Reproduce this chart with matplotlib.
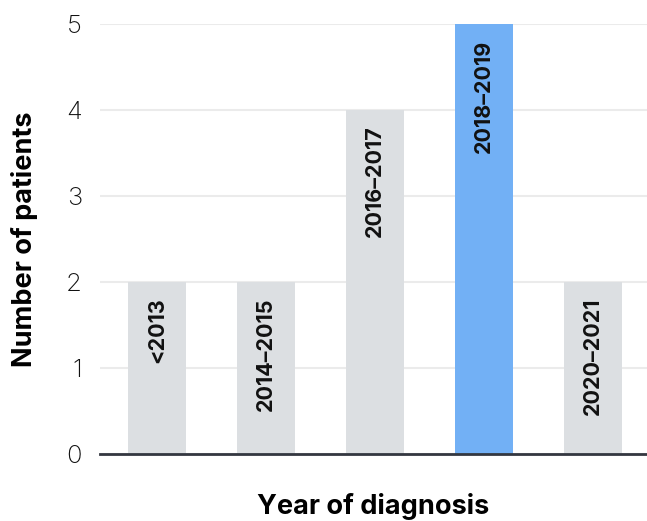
import numpy as np
import matplotlib.pyplot as plt

# data
periods = ['<2013', '2014\u20132015', '2016\u20132017', '2018\u20132019', '2020\u20132021']
patients = [2, 2, 4, 5, 2]
highlight = '2018\u20132019'

plt.rcParams['font.family'] = ['Inter', 'DejaVu Sans']

fig = plt.figure(figsize=(6.47, 5.21), dpi=100)
ax = fig.add_axes([0.1546, 0.1286, 0.8454, 0.8253])

x = np.arange(len(periods))
colors = ['#72b0f5' if p == highlight else '#dcdfe2' for p in periods]
ax.bar(x, patients, width=0.53, color=colors, zorder=2)

for xi, p, v in zip(x, periods, patients):
    ax.annotate(p, (xi, v), xytext=(0, -11), textcoords='offset points',
                rotation=90, ha='center', va='top', fontsize=15.5,
                fontweight='bold', color='#111111', zorder=3)

ax.set_xlim(-0.523, 4.495)
ax.set_ylim(0, 5)
ax.set_yticks(range(6))
ax.set_xticks([])
ax.grid(axis='y', color='#ebebeb', linewidth=1.5, zorder=0)
for s in ['top', 'right', 'left']:
    ax.spines[s].set_visible(False)
ax.spines['bottom'].set_color('#333740')
ax.spines['bottom'].set_linewidth(2)
ax.spines['bottom'].set_zorder(4)
ax.tick_params(axis='y', length=0, pad=13, labelsize=18.5, labelcolor='#111111')
for t in ax.get_yticklabels():
    t.set_fontweight('light')

ax.set_ylabel('Number of patients', fontsize=19.5, fontweight='bold', labelpad=20)
ax.set_xlabel('Year of diagnosis', fontsize=19.5, fontweight='bold', labelpad=28)

fig.savefig('out.png', dpi=100)
